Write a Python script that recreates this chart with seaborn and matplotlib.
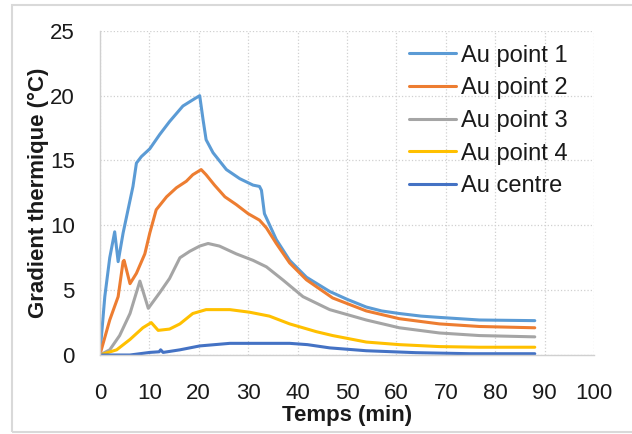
import matplotlib
matplotlib.use("Agg")
import matplotlib.pyplot as plt
import seaborn as sns
import pandas as pd

# Time (min) and thermal gradient (degC)
T_P1 = [0, 1.0, 2.0, 3.0, 3.7, 4.7, 5.7, 6.7, 7.4, 8.4, 10.1, 12.1, 14.1, 16.8, 18.9, 20.2,
        20.9, 21.5, 22.9, 25.6, 28.3, 31.0, 32.3, 32.7, 33.3, 35.7, 38.4, 41.8, 46.5,
        50.0, 53.9, 57.0, 60.6, 65.0, 68.7, 76.8, 88.0]
G_P1 = [0, 4.5, 7.5, 9.5, 7.2, 9.4, 11.2, 13.0, 14.8, 15.3, 15.9, 17.0, 18.0, 19.2, 19.7, 20.0,
        18.1, 16.6, 15.6, 14.3, 13.6, 13.1, 13.0, 12.7, 10.9, 8.9, 7.3, 6.0, 4.9,
        4.3, 3.7, 3.4, 3.2, 3.0, 2.9, 2.7, 2.65]

T_P2 = [0, 2.0, 3.7, 4.7, 4.9, 6.1, 7.4, 9.1, 10.1, 11.4, 13.5, 15.5, 17.5, 18.8, 20.5,
        21.5, 23.2, 25.3, 27.6, 30.0, 32.3, 33.7, 35.7, 38.4, 41.8, 47.1, 53.9, 60.6,
        68.7, 76.8, 88.0]
G_P2 = [0, 2.7, 4.5, 7.2, 7.3, 5.5, 6.3, 7.8, 9.4, 11.2, 12.2, 12.9, 13.4, 13.9, 14.3,
        13.9, 13.1, 12.2, 11.6, 10.9, 10.4, 9.8, 8.6, 7.1, 5.8, 4.4, 3.4, 2.8,
        2.4, 2.2, 2.1]

T_P3 = [0, 2.0, 4.0, 6.1, 8.1, 9.8, 12.1, 14.1, 16.2, 18.2, 20.2, 21.9, 24.2, 27.6, 31.0,
        33.7, 37.0, 41.1, 46.5, 53.9, 60.6, 68.7, 76.8, 88.0]
G_P3 = [0, 0.4, 1.5, 3.2, 5.7, 3.6, 4.8, 5.9, 7.5, 8.0, 8.4, 8.6, 8.4, 7.8, 7.3,
        6.8, 5.8, 4.5, 3.5, 2.7, 2.1, 1.7, 1.5, 1.4]

T_P4 = [0, 3.4, 6.1, 8.7, 10.4, 11.8, 14.1, 16.2, 18.8, 21.5, 26.3, 30.3, 34.3, 38.4,
        43.8, 47.1, 53.9, 60.6, 68.7, 76.8, 88.0]
G_P4 = [0, 0.4, 1.2, 2.1, 2.5, 1.9, 2.0, 2.4, 3.2, 3.5, 3.5, 3.3, 3.0, 2.4,
        1.8, 1.5, 1.0, 0.8, 0.65, 0.6, 0.6]

T_C = [0, 6.1, 10.1, 12.0, 12.3, 12.8, 16.2, 20.2, 26.3, 31.7, 38.4, 42.0, 46.5, 53.9,
       64.0, 75.0, 88.0]
G_C = [0, 0, 0.2, 0.25, 0.4, 0.2, 0.4, 0.7, 0.9, 0.9, 0.9, 0.8, 0.55, 0.33,
       0.18, 0.1, 0.1]

LABELS = ["Au point 1", "Au point 2", "Au point 3", "Au point 4", "Au centre"]
COLORS = ["#5B9BD5", "#ED7D31", "#A5A5A5", "#FFC000", "#4472C4"]

X_TICKS = list(range(0, 101, 10))
Y_TICKS = list(range(0, 26, 5))


def build_frame():
    ''' long-form table: one row per point, hue = series name '''
    rows = []
    series = [(T_P1, G_P1), (T_P2, G_P2), (T_P3, G_P3), (T_P4, G_P4), (T_C, G_C)]
    for name, (ts, gs) in zip(LABELS, series):
        for t, g in zip(ts, gs):
            rows.append({"temps": t, "gradient": g, "serie": name})
    return pd.DataFrame(rows)


def main():
    sns.set_theme(style="white")
    plt.rcParams['font.family'] = ['Liberation Sans', 'DejaVu Sans']

    df = build_frame()
    fig = plt.figure(figsize=(6.32, 4.34), dpi=100)
    ax = fig.add_axes([0.158, 0.182, 0.782, 0.747])

    sns.lineplot(data=df, x="temps", y="gradient", hue="serie", hue_order=LABELS,
                 palette=COLORS, sort=False, estimator=None, linewidth=2.2, ax=ax)

    ax.set_xlim(0, 100)
    ax.set_ylim(0, 25)
    ax.set_xticks(X_TICKS)
    ax.set_yticks(Y_TICKS)
    ax.tick_params(axis="both", labelsize=16, length=0, colors="#1a1a1a")
    ax.tick_params(axis="x", pad=20)
    ax.tick_params(axis="y", pad=18)
    ax.grid(True, linestyle=":", color="#D0D0D0", linewidth=0.9)
    ax.set_axisbelow(True)
    for side in ["top", "right"]:
        ax.spines[side].set_visible(False)
    for side in ["left", "bottom"]:
        ax.spines[side].set_color("#D0D0D0")
        ax.spines[side].set_linewidth(1)

    ax.set_xlabel("Temps (min)", fontsize=16, fontweight="bold", color="#1a1a1a", labelpad=1)
    ax.set_ylabel("Gradient thermique (°C)", fontsize=16, fontweight="bold",
                  color="#1a1a1a", labelpad=1)

    leg = ax.legend(loc="upper left", bbox_to_anchor=(0.626, 0.957), frameon=False,
                    fontsize=17, handlelength=2.0, handletextpad=0.2,
                    labelspacing=0.45, borderpad=0, borderaxespad=0)
    for line in leg.get_lines():
        line.set_linewidth(2.2)
    for txt in leg.get_texts():
        txt.set_color("#1a1a1a")

    # chart area border
    fig.add_artist(plt.Rectangle((0.019, 0.0046), 1.0, 0.984, fill=False,
                                 edgecolor="#D9D9D9", linewidth=1.5,
                                 transform=fig.transFigure))
    fig.savefig("out.png", dpi=100)


if __name__ == "__main__":
    main()
